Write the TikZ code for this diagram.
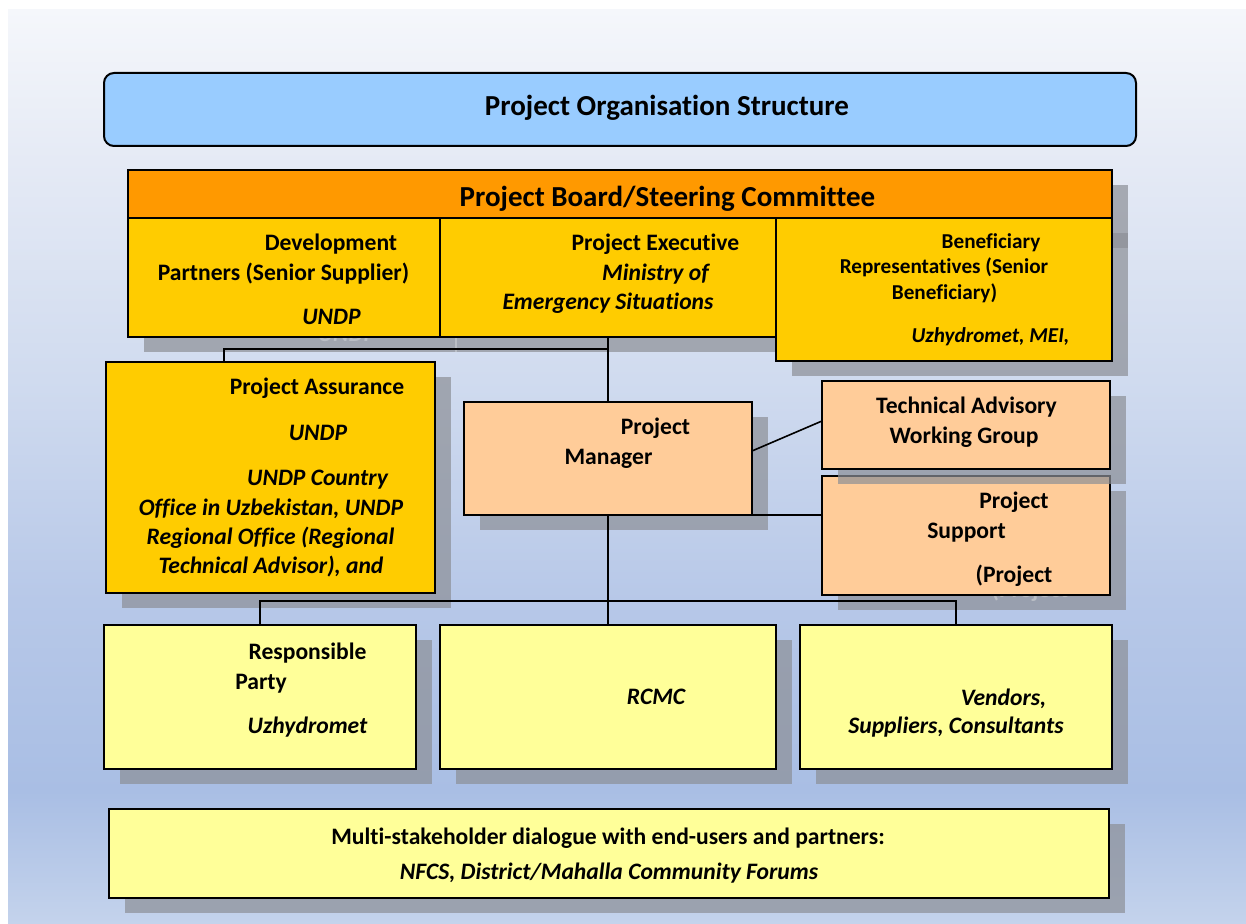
\documentclass[tikz,border=0pt]{standalone}
\usepackage{fontspec}
\setmainfont{Carlito}[Ligatures=NoCommon]
\usetikzlibrary{calc}

\definecolor{titleblue}{HTML}{99CCFF}
\definecolor{boardorange}{HTML}{FF9900}
\definecolor{boardgold}{HTML}{FFCC00}
\definecolor{peach}{HTML}{FFCC99}
\definecolor{paleyellow}{HTML}{FFFF99}
\definecolor{shadowgray}{RGB}{140,143,150}
\definecolor{ghostgray}{RGB}{186,190,197}
\definecolor{bgA}{HTML}{F5F7FB}
\definecolor{bgB}{HTML}{E5EAF5}
\definecolor{bgC}{HTML}{D0DBEF}
\definecolor{bgD}{HTML}{B7C8E8}
\definecolor{bgE}{HTML}{A9BEE4}
\definecolor{bgF}{HTML}{C4D3EC}

% page background: light at the top, deepening to blue near the foot
\pgfdeclareverticalshading{pagebg}{100bp}{%
  color(0bp)=(bgF); color(25bp)=(bgF); color(32.3bp)=(bgE);
  color(42.7bp)=(bgD); color(54.8bp)=(bgC); color(66.8bp)=(bgB);
  color(75bp)=(bgA); color(100bp)=(bgA)}

% box with its drop shadow: name, x1, y1, x2, y2, style, extra drawing under the box
\newcommand\orgbox[7]{%
  \fill[shadowfill] ({#2+16},{#3+15}) rectangle ({#4+16},{#5+15});
  #7
  \node[boxbase,#6,anchor=north west,
        minimum width={(#4-#2)*0.5pt},minimum height={(#5-#3)*0.5pt}] (#1) at (#2,#3) {};}

\tikzset{
  boxbase/.style={draw=black, line width=1pt, inner sep=0pt, outer sep=0pt},
  shadowfill/.style={fill=shadowgray, fill opacity=0.7},
  lbl/.style={anchor=base, inner sep=0pt, font=\fontsize{11.8}{14}\selectfont\bfseries},
  lbli/.style={anchor=base, inner sep=0pt, font=\fontsize{11.8}{14}\selectfont\bfseries\itshape},
  lbls/.style={anchor=base, inner sep=0pt, font=\fontsize{10.6}{13}\selectfont\bfseries},
  lblsi/.style={anchor=base, inner sep=0pt, font=\fontsize{10.6}{13}\selectfont\bfseries\itshape},
  headlbl/.style={anchor=base, inner sep=0pt, font=\fontsize{14.5}{17}\selectfont\bfseries},
  ghost/.style={text=ghostgray},
  link/.style={draw=black, line width=0.8pt},
}

\begin{document}
\begin{tikzpicture}[x=0.5pt,y=-0.5pt]
\useasboundingbox (0,0) rectangle (1246,924);
\fill[white] (0,0) rectangle (1246,924);
\shade[shading=pagebg] (8,10) rectangle (1246,924);

% heading
\node[boxbase, fill=titleblue, rounded corners=5pt, anchor=north west,
      minimum width=516pt, minimum height=36.5pt] (title) at (104,73) {};

% project board
\orgbox{hdr}{128}{170}{1112}{218}{fill=boardorange}{%
  \fill[shadowfill] (144,233) rectangle (1128,248);}
\orgbox{dp}{128}{218}{440}{337}{fill=boardgold}{%
  \node[lbli, ghost] (dpghost) at (347,342) {UNDP};}
\orgbox{pe}{440}{218}{776}{337}{fill=boardgold}{%
  \draw[ghostgray, line width=0.6pt] (456,233) -- (456,352);}
\orgbox{br}{776}{218}{1112}{361}{fill=boardgold}{}

% management level
\orgbox{pa}{106}{362}{435}{593}{fill=boardgold}{}
\orgbox{pm}{464}{402}{752}{515}{fill=peach}{}
\orgbox{ps}{822}{476}{1110}{595}{fill=peach}{%
  \node[lbl, ghost] (psghost) at (1030,597) {(Project};}
\orgbox{tawg}{822}{381}{1110}{469}{fill=peach}{}

% delivery level
\orgbox{rp}{104}{625}{416}{769}{fill=paleyellow}{}
\orgbox{rcmc}{440}{625}{776}{769}{fill=paleyellow}{}
\orgbox{ven}{800}{625}{1112}{769}{fill=paleyellow}{}

% stakeholder dialogue
\orgbox{ms}{109}{809}{1109}{898}{fill=paleyellow}{}

% connectors
\draw[link] (pe.south -| pm.north) -- (pm.north);
\draw[link] (pm.north |- 0,349) -| ([xshift=59pt]pa.north west);
\draw[link] ([yshift=3.75pt]pm.east) -- ([yshift=2pt]tawg.west);
\draw[link] (pm.south east) -- (pm.south east -| ps.west);
\draw[link] (pm.south) -- (rcmc.north);
\draw[link] (rp.north) |- (ven.north |- 0,601) -- (ven.north);

% texts
\node[headlbl] (t-title) at (667,116) {Project Organisation Structure};
\node[headlbl] (t-hdr) at (667.5,207) {Project Board/Steering Committee};

\node[lbl] (t-dp1) at (331,251) {Development};
\node[lbl] (t-dp2) at (283.5,281) {Partners (Senior Supplier)};
\node[lbli] (t-dp3) at (331.5,325) {UNDP};

\node[lbl] (t-pe1) at (655.5,251) {Project Executive};
\node[lbli] (t-pe2) at (655.5,281) {Ministry of};
\node[lbli] (t-pe3) at (608,310) {Emergency Situations};

\node[lbls] (t-br1) at (991,249) {Beneficiary};
\node[lbls] (t-br2) at (944,274) {Representatives (Senior};
\node[lbls] (t-br3) at (944.5,300) {Beneficiary)};
\node[lblsi] (t-br4) at (990.5,343) {Uzhydromet, MEI,};

\node[lbl] (t-pa1) at (317,395) {Project Assurance};
\node[lbli] (t-pa2) at (318,441) {UNDP};
\node[lbli] (t-pa3) at (317.5,486) {UNDP Country};
\node[lbli] (t-pa4) at (271,515) {Office in Uzbekistan, UNDP};
\node[lbli] (t-pa5) at (270.5,544) {Regional Office (Regional};
\node[lbli] (t-pa6) at (271,573) {Technical Advisor), and};

\node[lbl] (t-pm1) at (655.5,435) {Project};
\node[lbl] (t-pm2) at (608.5,465) {Manager};

\node[lbl] (t-ta1) at (966.5,414) {Technical Advisory};
\node[lbl] (t-ta2) at (964,444) {Working Group};

\node[lbl] (t-ps1) at (1014,509) {Project};
\node[lbl] (t-ps2) at (966.5,538) {Support};
\node[lbl] (t-ps3) at (1014,582) {(Project};

\node[lbl] (t-rp1) at (307.5,659) {Responsible};
\node[lbl] (t-rp2) at (261,689) {Party};
\node[lbli] (t-rp3) at (307.5,733) {Uzhydromet};

\node[lbli] (t-rc) at (656,704) {RCMC};

\node[lbli] (t-ve1) at (1003.5,705) {Vendors,};
\node[lbli] (t-ve2) at (956,733) {Suppliers, Consultants};

\node[lbl] (t-ms1) at (608,844) {Multi-stakeholder dialogue with end-users and partners:};
\node[lbli] (t-ms2) at (609,879) {NFCS, District/Mahalla Community Forums};
\end{tikzpicture}
\end{document}
